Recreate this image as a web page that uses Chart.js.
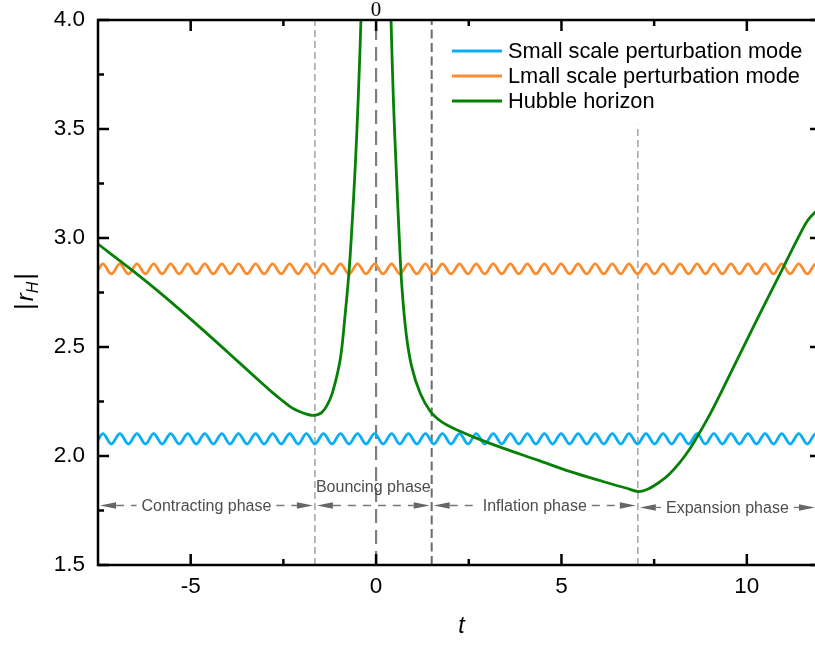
<!DOCTYPE html>
<html><head><meta charset="utf-8">
<script src="https://cdn.jsdelivr.net/npm/chart.js@4.4.1/dist/chart.umd.min.js"></script>
<style>html,body{margin:0;padding:0;overflow:hidden;background:#fff}#wrap{width:823px;height:645px;position:relative}</style>
</head><body><div id="wrap"><canvas id="c"></canvas></div>
<script>
// ---- data ----
const waveT = [-7.5,
 -7.37,-7.14,-6.91,-6.68,-6.45,-6.22,-6.00,-5.77,-5.54,-5.31,-5.08,-4.85,-4.62,-4.39,-4.16,-3.94,
 -3.71,-3.48,-3.25,-3.02,-2.79,-2.56,-2.33,-2.10,-1.88,-1.65,-1.42,-1.19,-0.96,-0.73,-0.50,-0.27,
 -0.04,0.19,0.42,0.64,0.87,1.10,1.33,1.56,1.79,2.02,2.25,2.48,2.70,2.93,3.16,3.39,3.62,3.85,
 4.08,4.31,4.54,4.76,4.99,5.22,5.45,5.68,5.91,6.14,6.37,6.60,6.82,7.05,7.28,7.51,7.74,7.97,
 8.20,8.43,8.66,8.88,9.11,9.34,9.57,9.80,10.03,10.26,10.49,10.72,10.94,11.17,11.40,11.63,
 11.86,12.0];
const smallScaleMode = [2.073,
 2.103,2.055,2.103,2.055,2.103,2.055,2.103,2.055,2.103,2.055,2.103,2.055,2.103,2.055,2.103,2.055,
 2.103,2.055,2.103,2.055,2.103,2.055,2.103,2.055,2.103,2.055,2.103,2.055,2.103,2.055,2.103,2.055,
 2.103,2.055,2.103,2.055,2.103,2.055,2.103,2.055,2.103,2.055,2.103,2.055,2.103,2.055,2.103,2.055,
 2.103,2.055,2.103,2.055,2.103,2.055,2.103,2.055,2.103,2.055,2.103,2.055,2.103,2.055,2.103,2.055,
 2.103,2.055,2.103,2.055,2.103,2.055,2.103,2.055,2.103,2.055,2.103,2.055,2.103,2.055,2.103,2.055,
 2.103,2.055,2.103,2.055,
 2.103,2.071];
const largeScaleMode = [2.853,
 2.881,2.835,2.881,2.835,2.881,2.835,2.881,2.835,2.881,2.835,2.881,2.835,2.881,2.835,2.881,2.835,
 2.881,2.835,2.881,2.835,2.881,2.835,2.881,2.835,2.881,2.835,2.881,2.835,2.881,2.835,2.881,2.835,
 2.881,2.835,2.881,2.835,2.881,2.835,2.881,2.835,2.881,2.835,2.881,2.835,2.881,2.835,2.881,2.835,
 2.881,2.835,2.881,2.835,2.881,2.835,2.881,2.835,2.881,2.835,2.881,2.835,2.881,2.835,2.881,2.835,
 2.881,2.835,2.881,2.835,2.881,2.835,2.881,2.835,2.881,2.835,2.881,2.835,2.881,2.835,2.881,2.835,
 2.881,2.835,2.881,2.835,
 2.881,2.850];
const hubbleT = [-7.5,-6.6,-5.8,-4.9,-4.0,-3.1,-2.8,-2.55,-2.3,-2.1,-1.9,-1.75,-1.6,-1.47,-1.33,-1.18,-0.97,-0.84,-0.72,-0.61,-0.52,-0.45,-0.41,-0.36,
 0,
 0.36,0.405,0.467,0.54,0.62,0.69,0.81,0.96,1.19,1.46,1.7,1.91,2.2,2.72,3.44,4.34,5.24,6.14,6.76,7.08,7.35,7.66,7.9,8.2,8.45,8.65,9.0,9.28,10.0,10.54,10.99,11.44,11.64,11.84,12.0];
const hubbleR = [2.972,2.855,2.745,2.613,2.476,2.337,2.292,2.257,2.224,2.206,2.193,2.187,2.189,2.199,2.230,2.288,2.440,2.639,2.868,3.174,3.480,3.786,3.990,4.300,
 null,
 4.300,3.990,3.633,3.327,3.022,2.792,2.563,2.410,2.288,2.205,2.165,2.142,2.118,2.081,2.035,1.982,1.928,1.882,1.852,1.837,1.850,1.882,1.915,1.972,2.030,2.085,2.190,2.283,2.532,2.716,2.868,3.020,3.080,3.118,3.140];
const seriesNames = ['Small scale perturbation mode', 'Lmall scale perturbation mode', 'Hubble horizon'];
const xMajorTicks = [-5, 0, 5, 10];
const xMinorTicks = [-2.5, 2.5, 7.5];
const yMajorTicks = [1.5, 2.0, 2.5, 3.0, 3.5, 4.0];
const yMinorTicks = [1.75, 2.25, 2.75, 3.25, 3.75];
const dividerT = [-1.65, 0, 1.5, 7.06];
const dividerTop = [4.0, 4.0, 4.0, 3.52];
const phaseBounds = [-7.5, -1.65, 1.5, 7.06, 12];
const phaseNames = ['Contracting phase', 'Bouncing phase', 'Inflation phase', 'Expansion phase'];
const phaseLevel = [1.773, 1.773, 1.773, 1.764];

// ---- styles ----
const SANS = '"Liberation Sans", Arial, Helvetica, sans-serif';
const colBlue = '#0AAEF5', colOrange = '#F98D31', colGreen = '#078007';
const dividerStyles = [
  {c:'#a8a8a8', w:1.6, d:[7,4]},
  {c:'#7f7f7f', w:2.2, d:[14,7]},
  {c:'#6a6a6a', w:2.0, d:[9,4.5]},
  {c:'#a8a8a8', w:1.6, d:[7,4]}
];

const datasets = [
  {label: seriesNames[0], data: waveT.map((t,i)=>({x:t, y:smallScaleMode[i]})), borderColor: colBlue, borderWidth: 2.8, order: 2, cubicInterpolationMode: 'monotone'},
  {label: seriesNames[1], data: waveT.map((t,i)=>({x:t, y:largeScaleMode[i]})), borderColor: colOrange, borderWidth: 2.8, order: 1, cubicInterpolationMode: 'monotone'},
  {label: seriesNames[2], data: hubbleT.map((t,i)=>({x:t, y:hubbleR[i]})), borderColor: colGreen, borderWidth: 2.8, order: 0, spanGaps: false, tension: 0.35}
];
dividerT.forEach((t,i)=>{
  datasets.push({label:'div'+i, data:[{x:t,y:1.5},{x:t,y:dividerTop[i]}], borderColor: dividerStyles[i].c,
    borderWidth: dividerStyles[i].w, borderDash: dividerStyles[i].d, order: 5+i, tension: 0});
});

const decor = {
  id: 'decor',
  afterDraw(chart) {
    const ctx = chart.ctx, a = chart.chartArea, xs = chart.scales.x, ys = chart.scales.y;
    ctx.save();
    // frame
    ctx.strokeStyle = '#000'; ctx.lineWidth = 2.5;
    ctx.strokeRect(a.left, a.top, a.right - a.left, a.bottom - a.top);
    // inward ticks
    ctx.lineWidth = 2.5;
    const tick = (x1,y1,x2,y2)=>{ctx.beginPath();ctx.moveTo(x1,y1);ctx.lineTo(x2,y2);ctx.stroke();};
    xMajorTicks.forEach(v=>{const p=xs.getPixelForValue(v); tick(p,a.bottom,p,a.bottom-11); tick(p,a.top,p,a.top+11);});
    xMinorTicks.forEach(v=>{const p=xs.getPixelForValue(v); tick(p,a.bottom,p,a.bottom-6); tick(p,a.top,p,a.top+6);});
    yMajorTicks.forEach(v=>{const p=ys.getPixelForValue(v); tick(a.left,p,a.left+11,p); tick(a.right,p,a.right-11,p);});
    yMinorTicks.forEach(v=>{const p=ys.getPixelForValue(v); tick(a.left,p,a.left+6,p); tick(a.right,p,a.right-6,p);});
    // "0" on top
    ctx.fillStyle = '#000';
    ctx.font = '21px "Liberation Serif", "Times New Roman", serif';
    ctx.textAlign = 'center'; ctx.textBaseline = 'alphabetic';
    ctx.fillText('0', xs.getPixelForValue(0), 16);
    // legend
    const cols = [colBlue, colOrange, colGreen];
    ctx.font = '21.8px ' + SANS; ctx.textAlign = 'left'; ctx.textBaseline = 'middle';
    seriesNames.forEach((n,i)=>{
      const y = 51 + i*25;
      ctx.strokeStyle = cols[i]; ctx.lineWidth = 2.8;
      tick(452, y, 502, y);
      ctx.fillStyle = '#000'; ctx.fillText(n, 508, y + 1);
    });
    // x title
    ctx.font = 'italic 23px ' + SANS; ctx.textAlign = 'center'; ctx.textBaseline = 'alphabetic';
    ctx.fillText('t', (a.left + a.right)/2 + 2, 633);
    // y title |r_H|
    ctx.save();
    ctx.translate(32.5, 291.5); ctx.rotate(-Math.PI/2);
    ctx.textAlign = 'left'; ctx.textBaseline = 'alphabetic';
    const fb = '26px ' + SANS, fr = 'italic 24px ' + SANS, fh = 'italic 16px ' + SANS;
    ctx.font = fb; const wb = ctx.measureText('|').width;
    ctx.font = fr; const wr = ctx.measureText('r').width;
    ctx.font = fh; const wh = ctx.measureText('H').width;
    const total = wb + 2 + wr + wh + 2 + wb;
    let u = -total/2;
    ctx.font = fb; ctx.fillText('|', u, 0); u += wb + 2;
    ctx.font = fr; ctx.fillText('r', u, 0); u += wr;
    ctx.font = fh; ctx.fillText('H', u, 5); u += wh + 2;
    ctx.font = fb; ctx.fillText('|', u, 0);
    ctx.restore();
    // phase annotations
    ctx.font = '16px ' + SANS;
    const arrowHead = (tipX, y, dir)=>{
      ctx.beginPath(); ctx.moveTo(tipX, y); ctx.lineTo(tipX + dir*16, y - 3.2); ctx.lineTo(tipX + dir*16, y + 3.2); ctx.closePath(); ctx.fill();
    };
    phaseNames.forEach((name,i)=>{
      const x0 = xs.getPixelForValue(phaseBounds[i]) + 2;
      const x1 = Math.min(xs.getPixelForValue(phaseBounds[i+1]) - 2, 815);
      const y = ys.getPixelForValue(phaseLevel[i]);
      ctx.fillStyle = '#666'; ctx.strokeStyle = '#777'; ctx.lineWidth = 1.3;
      arrowHead(x0, y, 1); arrowHead(x1, y, -1);
      ctx.setLineDash([8,7]);
      const tw = ctx.measureText(name).width;
      const cx = (x0 + x1)/2;
      if (i === 1) {
        tick(x0 + 16, y, x1 - 16, y);
        ctx.setLineDash([]);
        ctx.fillStyle = '#4d4d4d'; ctx.textAlign = 'center'; ctx.textBaseline = 'middle';
        ctx.fillText(name, cx, y - 18);
      } else {
        tick(x0 + 16, y, cx - tw/2 - 5, y);
        tick(cx + tw/2 + 5, y, x1 - 16, y);
        ctx.setLineDash([]);
        ctx.fillStyle = '#4d4d4d'; ctx.textAlign = 'center'; ctx.textBaseline = 'middle';
        ctx.fillText(name, cx, y + 1);
      }
    });
    ctx.restore();
  }
};

new Chart(document.getElementById('c'), {
  type: 'line',
  data: { datasets },
  options: {
    responsive: true, maintainAspectRatio: false, animation: false,
    layout: { padding: { top: 20, right: 2, left: 0, bottom: 0 } },
    elements: { point: { radius: 0, hoverRadius: 0 }, line: { fill: false } },
    plugins: { legend: { display: false }, tooltip: { enabled: false } },
    events: [],
    scales: {
      x: {
        type: 'linear', min: -7.5, max: 12,
        grid: { display: false, drawTicks: false }, border: { display: false },
        afterBuildTicks: s => { s.ticks = xMajorTicks.map(v => ({ value: v })); },
        afterFit: s => { s.height = 80; s.paddingLeft = 0; s.paddingRight = 0; },
        ticks: { color: '#000', font: { family: SANS, size: 22.5 }, padding: 8, maxRotation: 0, callback: v => String(v) }
      },
      y: {
        type: 'linear', min: 1.5, max: 4.0,
        grid: { display: false, drawTicks: false }, border: { display: false },
        afterBuildTicks: s => { s.ticks = yMajorTicks.map(v => ({ value: v })); },
        afterFit: s => { s.width = 98; s.paddingTop = 0; s.paddingBottom = 0; },
        ticks: { color: '#000', font: { family: SANS, size: 22.5 }, padding: 13, callback: v => Number(v).toFixed(1) }
      }
    }
  },
  plugins: [decor]
});
</script>
</body></html>
